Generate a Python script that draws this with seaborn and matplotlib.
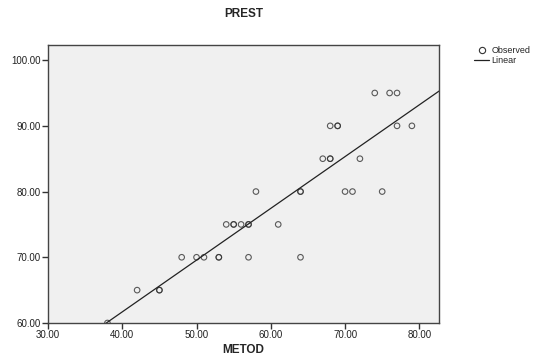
import matplotlib
matplotlib.use("Agg")
import matplotlib.pyplot as plt
import seaborn as sns
import pandas as pd
from matplotlib.lines import Line2D

metod = [38, 42, 45, 45, 48, 50, 51, 53, 53, 57, 54, 55, 55, 56, 57, 57, 58,
         61, 64, 64, 64, 70, 71, 75, 67, 68, 68, 72, 68, 69, 69, 77, 79, 74, 76, 77]
prest = [60, 65, 65, 65, 70, 70, 70, 70, 70, 70, 75, 75, 75, 75, 75, 75, 80,
         75, 80, 80, 70, 80, 80, 80, 85, 85, 85, 85, 90, 90, 90, 90, 90, 95, 95, 95]
xticks = [30, 40, 50, 60, 70, 80]
yticks = [60, 70, 80, 90, 100]

df = pd.DataFrame({"METOD": metod, "PREST": prest})

sns.set_style("ticks")
plt.rcParams['font.family'] = ['Liberation Sans', 'DejaVu Sans']

fig = plt.figure(figsize=(5.37, 3.61), dpi=100)
ax = fig.add_axes([0.0894, 0.1053, 0.7281, 0.77])
ax.set_facecolor("#F0F0F0")
ax.set_xlim(30, 82.65)
ax.set_ylim(60, 102.3)

sns.regplot(data=df, x="METOD", y="PREST", ax=ax, ci=None, truncate=False,
            scatter_kws=dict(s=16, facecolors="none", edgecolors="#333333", linewidths=0.8),
            line_kws=dict(color="#222222", linewidth=0.9))
ax.set_xlim(30, 82.65)
ax.set_ylim(60, 102.3)

ax.set_xticks(xticks)
ax.set_yticks(yticks)
ax.set_xticklabels([f"{v:.2f}" for v in xticks], fontsize=7)
ax.set_yticklabels([f"{v:.2f}" for v in yticks], fontsize=7)
ax.tick_params(direction="out", length=4, width=1, color="#333333", pad=1, labelcolor="#222222")
for s in ax.spines.values():
    s.set_visible(True)
    s.set_color("#444444")
    s.set_linewidth(1.0)

ax.set_xlabel("METOD", fontsize=8.5, fontweight="bold", labelpad=3)
ax.set_ylabel("")
ax.set_title("PREST", fontsize=8.5, fontweight="bold", pad=20)

handles = [Line2D([], [], linestyle="none", marker="o", markerfacecolor="none",
                  markeredgecolor="#333333", markersize=4.5, markeredgewidth=0.8),
           Line2D([], [], color="#222222", linewidth=0.9)]
fig.legend(handles, ["Observed", "Linear"], loc="upper left",
           bbox_to_anchor=(0.875, 0.884), frameon=False, fontsize=6.5,
           handlelength=1.6, handletextpad=0.3, labelspacing=0.1, borderpad=0)

fig.savefig("out.png", dpi=100)
